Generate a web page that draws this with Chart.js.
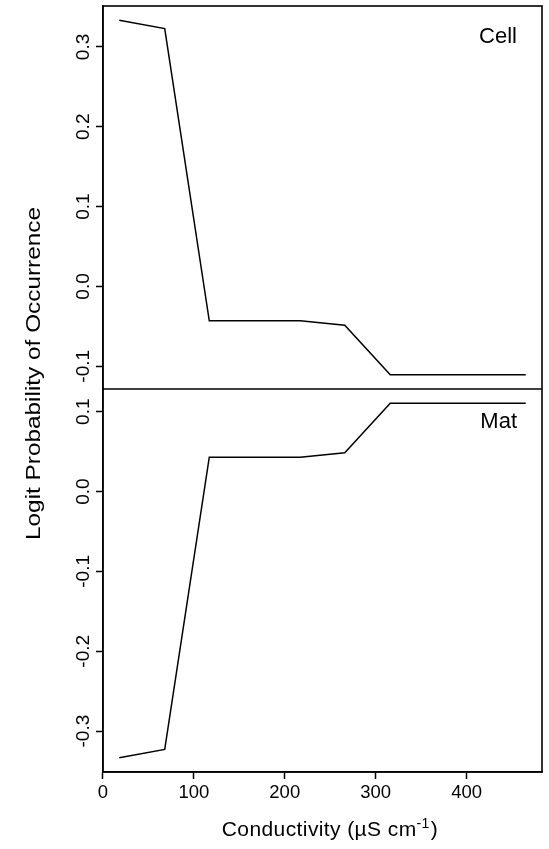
<!DOCTYPE html>
<html>
<head>
<meta charset="utf-8">
<script src="https://cdn.jsdelivr.net/npm/chart.js@4/dist/chart.umd.min.js"></script>
<style>
  body { margin: 0; background: #fff; }
  canvas { display: block; }
</style>
</head>
<body>
<canvas id="logitChart" width="549" height="849"></canvas>
<script>
// conductivity steps and logit values for the two substrates
let conductivity = [18, 68, 117, 217, 266, 316, 465];
let cellLogit = [0.3335, 0.323, -0.043, -0.043, -0.0485, -0.1107, -0.1107];
let matLogit = [-0.3335, -0.323, 0.043, 0.043, 0.0485, 0.1107, 0.1107];

let xTicks = [0, 100, 200, 300, 400];
let cellTicks = [-0.1, 0.0, 0.1, 0.2, 0.3];
let matTicks = [-0.3, -0.2, -0.1, 0.0, 0.1];

let panelNames = ["Cell", "Mat"];
let xTitle = "Conductivity (\u00b5S cm";
let yTitle = "Logit Probability of Occurrence";

const FONT = '"Liberation Sans", Arial, sans-serif';

// axis limits padded by 4% of the data range, like base R plots
function padded(values) {
  let lo = Math.min(...values), hi = Math.max(...values);
  let pad = (hi - lo) * 0.04;
  return { min: lo - pad, max: hi + pad };
}

function points(ys) {
  return conductivity.map((x, i) => ({ x: x, y: ys[i] }));
}

function useTicks(values) {
  return function (scale) {
    scale.ticks = values.map((v) => ({ value: v }));
  };
}

let xLim = padded(conductivity);
let cellLim = padded(cellLogit);
let matLim = padded(matLogit);

let tickGrid = {
  drawOnChartArea: false,
  drawTicks: true,
  tickLength: 7,
  tickWidth: 1.5,
  tickColor: "#000",
  color: "#000",
};

// frame, panel divider and all the text
let decorations = {
  id: "decorations",
  afterDraw(chart) {
    let ctx = chart.ctx;
    let area = chart.chartArea;
    let xs = chart.scales.x;
    let top = chart.scales.cell;
    let bottom = chart.scales.mat;

    ctx.save();
    ctx.strokeStyle = "#000";
    ctx.lineWidth = 1.6;
    ctx.strokeRect(area.left, area.top, area.right - area.left, area.bottom - area.top);
    ctx.beginPath();
    ctx.moveTo(area.left, top.bottom);
    ctx.lineTo(area.right, top.bottom);
    ctx.stroke();

    ctx.fillStyle = "#000";

    // x tick labels
    ctx.font = "18.5px " + FONT;
    ctx.textAlign = "center";
    ctx.textBaseline = "alphabetic";
    xTicks.forEach((v) => {
      ctx.fillText(String(v), xs.getPixelForValue(v), area.bottom + 26.3);
    });

    // y tick labels, rotated
    [[top, cellTicks], [bottom, matTicks]].forEach(([scale, ticks]) => {
      ticks.forEach((v) => {
        ctx.save();
        ctx.translate(area.left - 14.5, scale.getPixelForValue(v));
        ctx.rotate(-Math.PI / 2);
        ctx.scale(1.03, 1);
        ctx.fillText(v.toFixed(1), 0, 0);
        ctx.restore();
      });
    });

    // panel names
    ctx.font = "22px " + FONT;
    ctx.textAlign = "right";
    ctx.fillText(panelNames[0], area.right - 25, top.top + 36.5);
    ctx.fillText(panelNames[1], area.right - 25, bottom.top + 38.5);

    // y title, drawn a little stretched along its length
    ctx.save();
    ctx.font = "19.5px " + FONT;
    ctx.textAlign = "center";
    let yw = ctx.measureText(yTitle).width;
    ctx.translate(40, 373.5);
    ctx.rotate(-Math.PI / 2);
    ctx.scale(333 / yw, 1);
    ctx.fillText(yTitle, 0, 0);
    ctx.restore();

    // x title with superscript
    ctx.font = "21px " + FONT;
    ctx.letterSpacing = "0.4px";
    ctx.textAlign = "left";
    let w1 = ctx.measureText(xTitle).width;
    ctx.font = "14px " + FONT;
    let w2 = ctx.measureText("-1").width;
    ctx.font = "21px " + FONT;
    let w3 = ctx.measureText(")").width;
    let x0 = 329.5 - (w1 + w2 + w3) / 2;
    let base = area.bottom + 64;
    ctx.fillText(xTitle, x0, base);
    ctx.font = "14px " + FONT;
    ctx.fillText("-1", x0 + w1, base - 8);
    ctx.font = "21px " + FONT;
    ctx.fillText(")", x0 + w1 + w2 + 1, base);
    ctx.restore();
  },
};

let ctx = document.getElementById("logitChart").getContext("2d");
let logitChart = new Chart(ctx, {
  type: "line",
  data: {
    datasets: [
      { label: "Mat", data: points(matLogit), yAxisID: "mat" },
      { label: "Cell", data: points(cellLogit), yAxisID: "cell" },
    ],
  },
  options: {
    responsive: false,
    animation: false,
    layout: { padding: { top: 6, right: 7, left: 0, bottom: 0 } },
    elements: {
      line: { borderColor: "#000", borderWidth: 1.5, tension: 0, fill: false },
      point: { radius: 0 },
    },
    plugins: {
      legend: { display: false },
      tooltip: { enabled: false },
    },
    scales: {
      x: {
        type: "linear",
        position: "bottom",
        min: xLim.min,
        max: xLim.max,
        afterBuildTicks: useTicks(xTicks),
        afterFit(scale) { scale.height = 77; },
        ticks: { display: false },
        grid: tickGrid,
        border: { display: true, color: "#000", width: 1.5 },
      },
      mat: {
        type: "linear",
        position: "left",
        stack: "panels",
        stackWeight: 1,
        min: matLim.min,
        max: matLim.max,
        afterBuildTicks: useTicks(matTicks),
        afterFit(scale) { scale.width = 103; },
        ticks: { display: false },
        grid: tickGrid,
        border: { display: true, color: "#000", width: 1.5 },
      },
      cell: {
        type: "linear",
        position: "left",
        stack: "panels",
        stackWeight: 1,
        min: cellLim.min,
        max: cellLim.max,
        afterBuildTicks: useTicks(cellTicks),
        afterFit(scale) { scale.width = 103; },
        ticks: { display: false },
        grid: tickGrid,
        border: { display: true, color: "#000", width: 1.5 },
      },
    },
  },
  plugins: [decorations],
});
</script>
</body>
</html>
